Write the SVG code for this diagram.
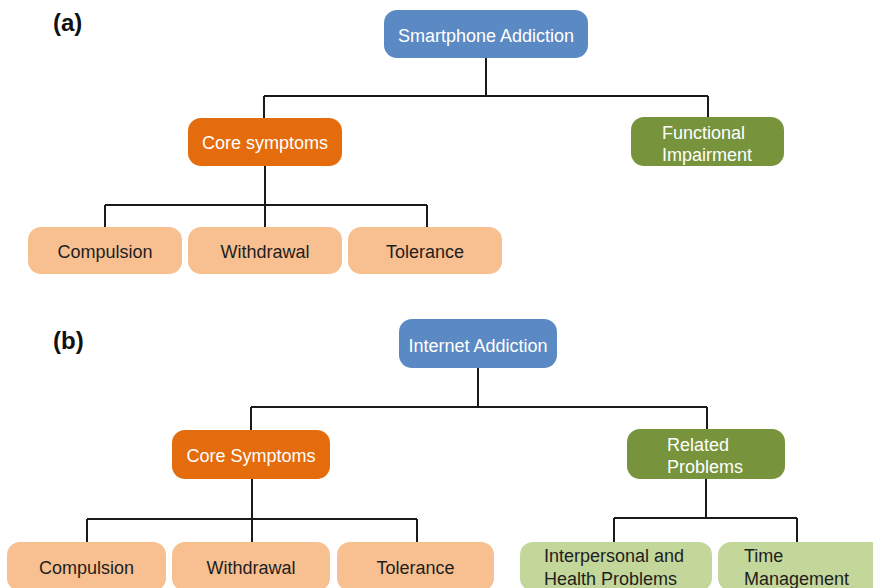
<svg xmlns="http://www.w3.org/2000/svg" width="873" height="588" viewBox="0 0 873 588">
  <style>
    text { font-family: "Liberation Sans", Arial, sans-serif; font-size: 18px; }
    .panel { font-size: 24px; font-weight: bold; fill: #111; }
    .mid { text-anchor: middle; }
    .light { fill: #ffffff; }
    .dark { fill: #1e1e1e; }
    .root { fill: #5b89c3; }
    .core { fill: #e46c0c; }
    .func { fill: #77933c; }
    .sym { fill: #f8c090; }
    .rel { fill: #c4d79b; }
    .wire { fill: none; stroke: #1a1a1a; stroke-width: 2; }
  </style>

  <!-- panel labels -->
  <text class="panel" x="53" y="31">(a)</text>
  <text class="panel" x="53" y="349">(b)</text>

  <!-- connectors -->
  <g id="connectors" class="wire">
    <!-- (a) tree -->
    <path d="M486 58 V96 M264 96 H708 M264 96 V118 M708 96 V118"/>
    <path d="M265 166 V205 M105 205 H427 M105 205 V227 M265 205 V227 M427 205 V227"/>
    <!-- (b) tree -->
    <path d="M478 368 V407 M251 407 H707 M251 407 V430 M707 407 V430"/>
    <path d="M252 479 V519 M87 519 H417 M87 519 V542 M252 519 V542 M417 519 V542"/>
    <path d="M706 479 V518 M614 518 H797 M614 518 V542 M797 518 V542"/>
  </g>

  <!-- (a) nodes -->
  <g id="a-smartphone-addiction">
    <rect class="root" x="384" y="10" width="204" height="48" rx="13"/>
    <text class="light mid" x="486" y="41.5">Smartphone Addiction</text>
  </g>
  <g id="a-core-symptoms">
    <rect class="core" x="188" y="118" width="154" height="48" rx="13"/>
    <text class="light mid" x="265" y="148.5">Core symptoms</text>
  </g>
  <g id="a-functional-impairment">
    <rect class="func" x="631" y="117" width="153" height="49" rx="13"/>
    <text class="light" x="662" y="138.5">Functional</text>
    <text class="light" x="662" y="160.5">Impairment</text>
  </g>
  <g id="a-compulsion">
    <rect class="sym" x="28" y="227" width="154" height="47" rx="13"/>
    <text class="dark mid" x="105" y="257.5">Compulsion</text>
  </g>
  <g id="a-withdrawal">
    <rect class="sym" x="188" y="227" width="154" height="47" rx="13"/>
    <text class="dark mid" x="265" y="257.5">Withdrawal</text>
  </g>
  <g id="a-tolerance">
    <rect class="sym" x="348" y="227" width="154" height="47" rx="13"/>
    <text class="dark mid" x="425" y="257.5">Tolerance</text>
  </g>

  <!-- (b) nodes -->
  <g id="b-internet-addiction">
    <rect class="root" x="399" y="319" width="158" height="49" rx="13"/>
    <text class="light mid" x="478" y="351.5">Internet Addiction</text>
  </g>
  <g id="b-core-symptoms">
    <rect class="core" x="172" y="430" width="158" height="49" rx="13"/>
    <text class="light mid" x="251" y="462">Core Symptoms</text>
  </g>
  <g id="b-related-problems">
    <rect class="func" x="627" y="429" width="158" height="50" rx="13"/>
    <text class="light" x="667" y="450.5">Related</text>
    <text class="light" x="667" y="472.5">Problems</text>
  </g>
  <g id="b-compulsion">
    <rect class="sym" x="7" y="542" width="159" height="49" rx="13"/>
    <text class="dark mid" x="86.5" y="573.5">Compulsion</text>
  </g>
  <g id="b-withdrawal">
    <rect class="sym" x="172" y="542" width="158" height="49" rx="13"/>
    <text class="dark mid" x="251" y="573.5">Withdrawal</text>
  </g>
  <g id="b-tolerance">
    <rect class="sym" x="337" y="542" width="157" height="49" rx="13"/>
    <text class="dark mid" x="415.5" y="573.5">Tolerance</text>
  </g>
  <g id="b-interpersonal-health">
    <rect class="rel" x="520" y="542" width="192" height="49" rx="13"/>
    <text class="dark" x="544" y="561.5">Interpersonal and</text>
    <text class="dark" x="544" y="584.5">Health Problems</text>
  </g>
  <g id="b-time-management">
    <rect class="rel" x="718" y="542" width="170" height="49" rx="13"/>
    <text class="dark" x="744" y="561.5">Time</text>
    <text class="dark" x="744" y="584.5">Management</text>
  </g>
</svg>
